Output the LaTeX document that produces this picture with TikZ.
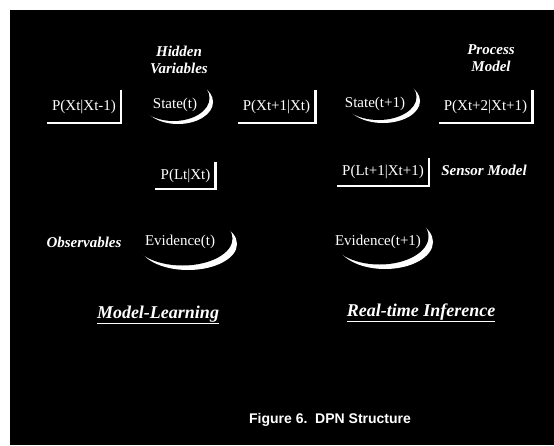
\documentclass[tikz,border=0pt]{standalone}
\usepackage{fontspec}
\setmainfont{Liberation Serif}
\setsansfont{Liberation Sans}
\usetikzlibrary{calc}

% crescent: centre, x radius, y radius, shift of the cut-out
\newcommand{\halfmoon}[4]{%
  \fill[white] #1 ellipse[x radius=#2,y radius=#3];
  \fill[black] ($#1+#4$) ellipse[x radius=#2+1,y radius=#3+1];}

\begin{document}
\begin{tikzpicture}[x=1pt,y=-1pt,
  term/.style={text=white,font=\fontsize{15}{17}\selectfont},
  tag/.style={text=white,align=center,font=\fontsize{15}{17}\selectfont\bfseries\itshape},
  pbox/.style={term,inner xsep=5pt,minimum height=33pt},
  bracket/.style={white,line width=2.4pt}]
  \useasboundingbox (0,0) rectangle (554,445);
  \fill[black] (10,10) rectangle (554,445);

  % crescents under the state and evidence labels
  \halfmoon{(178,102)}{35}{22}{(-4.5,-4)}
  \halfmoon{(383,101)}{37}{22}{(-4.5,-4)}
  \halfmoon{(188,244)}{49}{26}{(-5.5,-5.5)}
  \halfmoon{(385,242)}{48}{27}{(-5.5,-5.5)}

  % hidden layer
  \node[tag] (hid) at (179,60) {Hidden\\Variables};
  \node[tag] (proc) at (491,58) {Process\\Model};
  \node[pbox] (ptrans0) at (84,106.5) {P(Xt|Xt-1)};
  \node[term] (state1) at (175,105) {State(t)};
  \node[pbox] (ptrans1) at (276.5,106.5) {P(Xt+1|Xt)};
  \node[term] (state2) at (375,104) {State(t+1)};
  \node[pbox] (ptrans2) at (485.5,106.5) {P(Xt+2|Xt+1)};
  \draw[bracket] (ptrans0.north east) |- (ptrans0.south west);
  \draw[bracket] (ptrans1.north east) |- (ptrans1.south west);
  \draw[bracket] (ptrans2.north east) |- (ptrans2.south west);

  % sensor layer
  \node[pbox,minimum height=26pt] (psens1) at (185.5,175.5) {P(Lt|Xt)};
  \node[pbox,minimum height=28pt] (psens2) at (383,172) {P(Lt+1|Xt+1)};
  \draw[bracket] (psens1.north east) |- (psens1.south west);
  \draw[bracket] (psens2.north east) |- (psens2.south west);
  \node[tag] (sens) at (484,170) {Sensor Model};

  % observed layer
  \node[tag] (obs) at (84,242) {Observables};
  \node[term] (evid1) at (180,242) {Evidence(t)};
  \node[term] (evid2) at (378,242) {Evidence(t+1)};

  \node[tag,font=\fontsize{18}{20}\selectfont\bfseries\itshape] (learn) at (158,315) {\underline{Model-Learning}};
  \node[tag,font=\fontsize{18}{20}\selectfont\bfseries\itshape] (infer) at (421,313) {\underline{Real-time Inference}};

  \node[text=white,font=\sffamily\bfseries\fontsize{14}{16}\selectfont] (cap) at (330,420) {Figure 6.\ \ DPN Structure};
\end{tikzpicture}
\end{document}
